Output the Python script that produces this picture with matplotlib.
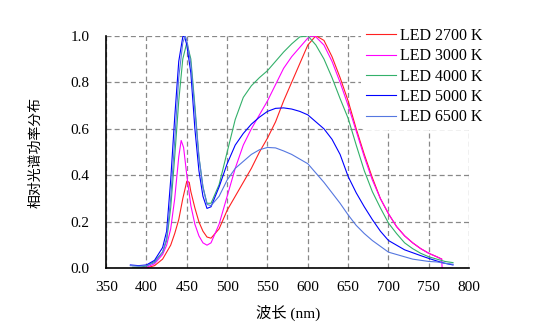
import numpy as np
import matplotlib
matplotlib.use("Agg")
import matplotlib.pyplot as plt

plt.rcParams['font.family'] = ['Liberation Serif', 'Noto Sans CJK SC']

#----------
# Data (wavelength nm, relative SPD)
wl_2700 = [385, 400, 410, 420, 425, 430, 435, 440, 445, 450, 453, 455, 460, 465, 470, 475, 480, 490,
           500, 510, 520, 530, 540, 550, 560, 570, 580, 590, 600, 610, 620, 630, 640, 650, 660, 670,
           680, 690, 700, 710, 720, 730, 740, 750, 760, 766]
val_2700 = [0.0, 0.002, 0.012, 0.04, 0.07, 0.10, 0.15, 0.21, 0.30, 0.375, 0.37, 0.33, 0.26, 0.20, 0.16,
            0.135, 0.13, 0.17, 0.25, 0.31, 0.37, 0.43, 0.50, 0.56, 0.63, 0.72, 0.80, 0.88, 0.96, 1.0,
            0.98, 0.91, 0.82, 0.72, 0.60, 0.49, 0.39, 0.30, 0.235, 0.18, 0.14, 0.11, 0.085, 0.065, 0.05, 0.04]

wl_3000 = [385, 400, 410, 420, 425, 430, 435, 440, 443, 446, 450, 455, 460, 465, 470, 475, 480, 490,
           500, 510, 520, 530, 540, 550, 560, 570, 580, 590, 600, 605, 610, 620, 630, 640, 650, 660,
           670, 680, 690, 700, 710, 720, 730, 740, 750, 760, 766, 766.5, 779]
val_3000 = [0.0, 0.005, 0.02, 0.06, 0.10, 0.17, 0.30, 0.48, 0.55, 0.52, 0.40, 0.27, 0.19, 0.14, 0.11,
            0.10, 0.11, 0.19, 0.31, 0.43, 0.53, 0.60, 0.66, 0.72, 0.79, 0.86, 0.91, 0.95, 0.99, 1.0,
            0.995, 0.96, 0.89, 0.80, 0.70, 0.59, 0.48, 0.38, 0.30, 0.235, 0.18, 0.14, 0.11, 0.085,
            0.065, 0.05, 0.04, 0.0, 0.0]

wl_4000 = [383, 390, 400, 410, 420, 425, 430, 435, 440, 445, 450, 455, 460, 465, 470, 475, 480, 490,
           500, 510, 520, 530, 540, 550, 560, 570, 580, 590, 600, 610, 620, 630, 640, 650, 660, 670,
           680, 690, 700, 710, 720, 730, 740, 750, 760, 770, 780]
val_4000 = [0.005, 0.005, 0.01, 0.03, 0.07, 0.12, 0.26, 0.48, 0.72, 0.90, 0.97, 0.90, 0.70, 0.48, 0.35,
            0.28, 0.28, 0.36, 0.50, 0.64, 0.735, 0.785, 0.82, 0.85, 0.89, 0.93, 0.965, 0.995, 1.0, 0.96,
            0.90, 0.82, 0.73, 0.645, 0.53, 0.42, 0.33, 0.26, 0.195, 0.15, 0.11, 0.085, 0.065, 0.05,
            0.04, 0.03, 0.025]

wl_5000 = [380, 390, 400, 410, 420, 425, 430, 435, 440, 445, 447, 450, 455, 460, 465, 470, 475, 480,
           490, 500, 510, 520, 530, 540, 550, 560, 570, 580, 590, 600, 610, 620, 630, 640, 650, 660,
           670, 680, 690, 700, 720, 740, 750, 760, 770, 780]
val_5000 = [0.015, 0.012, 0.015, 0.035, 0.09, 0.16, 0.38, 0.65, 0.89, 0.995, 1.0, 0.96, 0.84, 0.60,
            0.42, 0.31, 0.258, 0.265, 0.35, 0.45, 0.53, 0.58, 0.62, 0.65, 0.675, 0.688, 0.69, 0.685,
            0.675, 0.66, 0.63, 0.60, 0.555, 0.49, 0.395, 0.325, 0.265, 0.21, 0.16, 0.12, 0.08, 0.055,
            0.043, 0.032, 0.022, 0.015]

wl_6500 = [380, 390, 400, 410, 420, 425, 430, 435, 440, 445, 448, 450, 455, 460, 465, 470, 475, 480,
           490, 500, 510, 520, 530, 540, 550, 560, 570, 580, 590, 600, 610, 620, 630, 640, 650, 660,
           670, 680, 690, 700, 710, 720, 730, 740, 750, 760, 770, 780]
val_6500 = [0.012, 0.01, 0.012, 0.025, 0.07, 0.13, 0.30, 0.55, 0.82, 0.97, 1.0, 0.98, 0.88, 0.68, 0.48,
            0.35, 0.275, 0.27, 0.31, 0.38, 0.43, 0.46, 0.49, 0.51, 0.52, 0.518, 0.505, 0.49, 0.47,
            0.45, 0.41, 0.37, 0.325, 0.28, 0.23, 0.185, 0.15, 0.12, 0.095, 0.07, 0.06, 0.05, 0.04,
            0.035, 0.03, 0.028, 0.022, 0.018]

labels = ['LED 2700 K', 'LED 3000 K', 'LED 4000 K', 'LED 5000 K', 'LED 6500 K']
colors = ['#FF2020', '#FF00FF', '#33B06A', '#0000FF', '#5577E0']
x_ticks = [350, 400, 450, 500, 550, 600, 650, 700, 750, 800]
y_ticks = [0.0, 0.2, 0.4, 0.6, 0.8, 1.0]
#----------

series = [(wl_2700, val_2700), (wl_3000, val_3000), (wl_4000, val_4000),
          (wl_5000, val_5000), (wl_6500, val_6500)]

fig = plt.figure(figsize=(5.5, 3.31), dpi=100)
ax = fig.add_axes([0.193, 0.189, 0.660, 0.703])

for (wl, val), lab, col in zip(series, labels, colors):
    ax.plot(wl, val, color=col, lw=0.8, label=lab)

ax.set_xlim(350, 800)
ax.set_ylim(0, 1.0)
ax.set_xticks(x_ticks)
ax.set_yticks(y_ticks)
ax.set_yticklabels([f"{v:.1f}" for v in y_ticks])
ax.tick_params(length=0, labelsize=11)
ax.tick_params(axis='y', pad=12)
ax.tick_params(axis='x', pad=9)
ax.grid(True, color='#888888', linestyle=(0, (4, 2.5)), lw=0.9)
ax.set_axisbelow(True)
for s in ['top', 'right']:
    ax.spines[s].set_visible(False)
for s in ['left', 'bottom']:
    ax.spines[s].set_linewidth(1.2)

ax.set_ylabel('相对光谱功率分布', fontsize=10, labelpad=20)
ax.set_xlabel('波长 (nm)', fontsize=11, labelpad=8)

leg = fig.legend(loc='upper left', bbox_to_anchor=(0.657, 0.93), fontsize=11.5,
                 handlelength=1.9, handletextpad=0.2, labelspacing=0.27,
                 frameon=True, borderpad=0.3, borderaxespad=0)
leg.get_frame().set_edgecolor('none')
leg.get_frame().set_facecolor('white')
leg.get_frame().set_alpha(1.0)

fig.savefig('out.png', dpi=100)
